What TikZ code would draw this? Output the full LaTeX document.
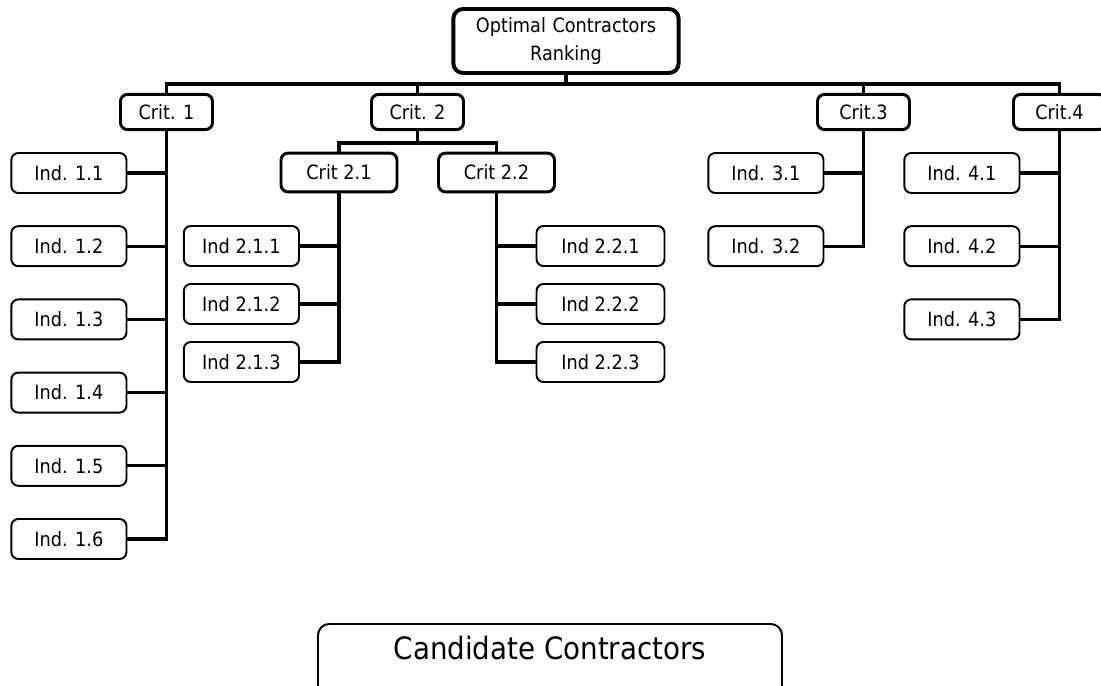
\documentclass[tikz,border=0pt]{standalone}
\usepackage{fontspec}
\setmainfont{DejaVu Sans Condensed}
\usepackage{tikz}
\usetikzlibrary{shapes,arrows}
\tikzstyle{goal} = [rectangle, draw, line width=2.8pt, rounded corners=7pt,
    text width=5.4cm, text centered, minimum height=1.6cm,
    font=\fontsize{14}{19.5}\selectfont]
\tikzstyle{crit} = [rectangle, draw, line width=2.1pt, rounded corners=5pt,
    minimum width=2.3cm, minimum height=0.88cm, inner sep=0pt,
    font=\fontsize{14}{16}\selectfont]
\tikzstyle{subcrit} = [crit, minimum width=2.9cm, minimum height=0.97cm]
\tikzstyle{ind} = [rectangle, draw, line width=1.4pt, rounded corners=5pt,
    minimum width=2.88cm, minimum height=1cm, inner sep=0pt,
    font=\fontsize{14}{16}\selectfont]
\tikzstyle{wideind} = [ind, minimum width=3.2cm]
\tikzstyle{base} = [rectangle, draw, line width=1.4pt, rounded corners=8pt,
    minimum width=11.6cm, inner ysep=0.33cm, text height=0.55cm, text depth=1.5cm,
    font=\fontsize{21.9}{26}\selectfont]
\tikzstyle{line} = [draw, line width=2.3pt]

\begin{document}
\begin{tikzpicture}[node distance = 2cm]
			\useasboundingbox (0,0) rectangle (27.525,-17.15);
			% Place nodes
			\node [goal] at (14.15,-1.025) (top) {Optimal Contractors\\Ranking};
			\node [crit, below of=top, node distance=1.775cm, xshift=-9.9875cm] (crit1) {Crit. 1};
			\node [crit, right of=crit1, node distance=6.275cm] (crit2) {Crit. 2};
			\node [crit, right of=crit2, node distance=11.15cm] (crit3) {Crit.3};
			\node [crit, right of=crit3, node distance=4.9cm] (crit4) {Crit.4};
			
			\node [ind, left of=crit1, node distance=2.44cm, yshift=-1.525cm] (ind11) {Ind. 1.1};
			\node [ind, below of=ind11, node distance=1.83cm] (ind12) {Ind. 1.2};
			\node [ind, below of=ind12, node distance=1.83cm] (ind13) {Ind. 1.3};
			\node [ind, below of=ind13, node distance=1.83cm] (ind14) {Ind. 1.4};
			\node [ind, below of=ind14, node distance=1.83cm] (ind15) {Ind. 1.5};
			\node [ind, below of=ind15, node distance=1.83cm] (ind16) {Ind. 1.6};
			
			\node [subcrit, left of=crit2, node distance=1.9625cm, yshift=-1.5125cm] (crit21) {Crit 2.1};
			\node [subcrit, right of=crit21, node distance=3.9375cm] (crit22) {Crit 2.2};
			\node [ind, left of=crit21, node distance=2.44cm, yshift=-1.8375cm] (ind211) {Ind 2.1.1};
			\node [ind, below of=ind211, node distance=1.45cm] (ind212) {Ind 2.1.2};
			\node [ind, below of=ind212, node distance=1.45cm] (ind213) {Ind 2.1.3};
			\node [wideind, right of=crit22, node distance=2.6cm, yshift=-1.8375cm] (ind221) {Ind 2.2.1};
			\node [wideind, below of=ind221, node distance=1.45cm] (ind222) {Ind 2.2.2};
			\node [wideind, below of=ind222, node distance=1.45cm] (ind223) {Ind 2.2.3};
			
			\node [ind, left of=crit3, node distance=2.44cm, yshift=-1.525cm] (ind31) {Ind. 3.1};
			\node [ind, below of=ind31, node distance=1.83cm] (ind32) {Ind. 3.2};
			
			\node [ind, left of=crit4, node distance=2.44cm, yshift=-1.525cm] (ind41) {Ind. 4.1};
			\node [ind, below of=ind41, node distance=1.83cm] (ind42) {Ind. 4.2};
			\node [ind, below of=ind42, node distance=1.83cm] (ind43) {Ind. 4.3};
			
			\node [base, below of=top, node distance=14.55cm, xshift=-0.4cm, anchor=north] (base) {Candidate Contractors};
			
			\coordinate (bus) at ([yshift=-0.225cm]top.south);
			\coordinate (subbus) at ([yshift=-0.3cm]crit2.south);
			
			\path [line] (top.south) -- (bus) -| (crit1.north);
			\path [line] (bus) -| (crit2.north);
			\path [line] (bus) -| (crit3.north);
			\path [line] (bus) -| (crit4.north);
			
			\path [line] (crit1.south) |- (ind11.east);
			\path [line] (crit1.south) |- (ind12.east);
			\path [line] (crit1.south) |- (ind13.east);
			\path [line] (crit1.south) |- (ind14.east);
			\path [line] (crit1.south) |- (ind15.east);
			\path [line] (crit1.south) |- (ind16.east);
			
			\path [line] (crit2.south) -- (subbus) -| (crit21.north);
			\path [line] (subbus) -| (crit22.north);
			\path [line] (crit21.south) |- (ind211.east);
			\path [line] (crit21.south) |- (ind212.east);
			\path [line] (crit21.south) |- (ind213.east);
			\path [line] (crit22.south) |- (ind221.west);
			\path [line] (crit22.south) |- (ind222.west);
			\path [line] (crit22.south) |- (ind223.west);
			
			\path [line] (crit3.south) |- (ind31.east);
			\path [line] (crit3.south) |- (ind32.east);
			
			\path [line] (crit4.south) |- (ind41.east);
			\path [line] (crit4.south) |- (ind42.east);
			\path [line] (crit4.south) |- (ind43.east);
\end{tikzpicture}
\end{document}
